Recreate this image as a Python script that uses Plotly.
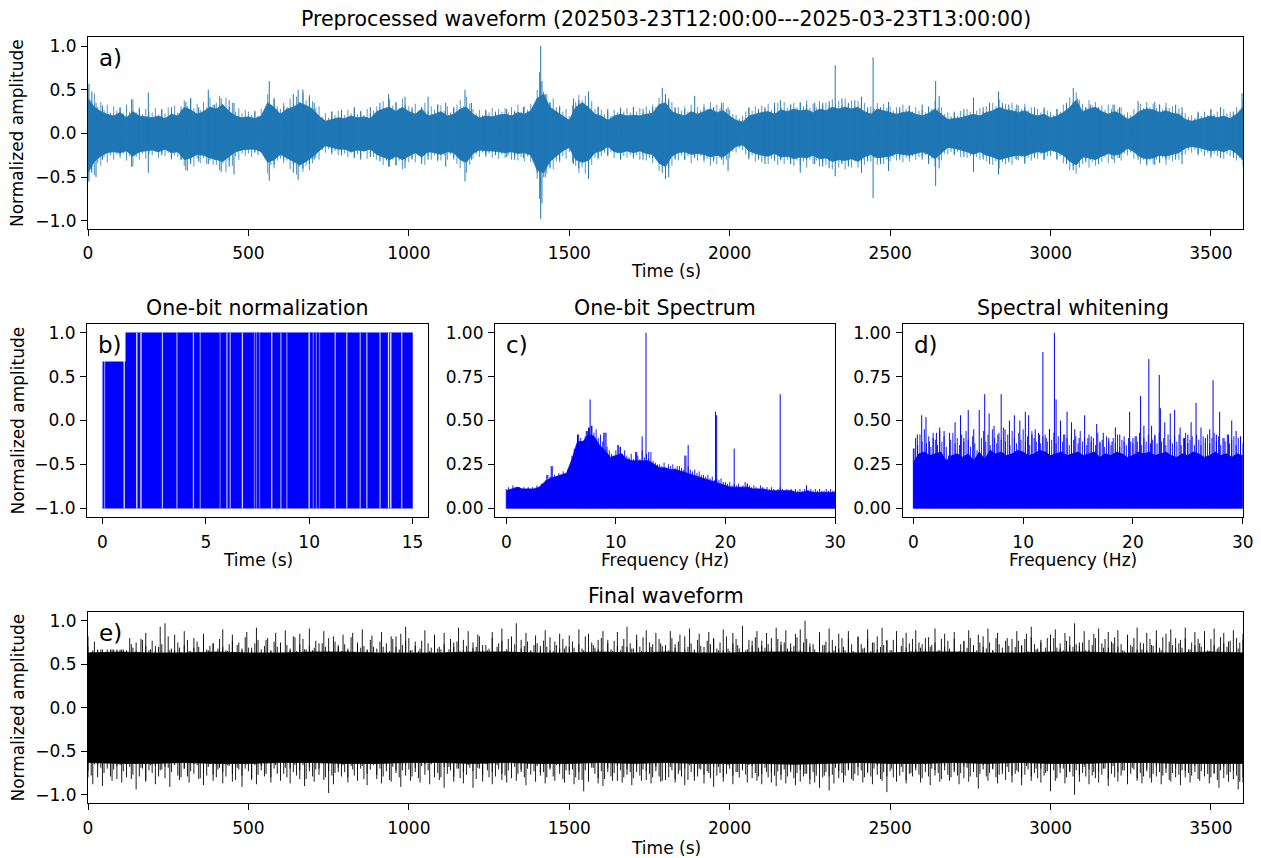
import plotly.graph_objects as go

# ------------------------------------------------------------------ data
# a) preprocessed waveform: dense body envelope sampled every 20 s (upper / lower)
A_STEP = 20
a_upper = [0.40, 0.30, 0.25, 0.22, 0.20, 0.24, 0.18, 0.25, 0.20, 0.19,
           0.18, 0.20, 0.17, 0.22, 0.20, 0.30, 0.27, 0.22, 0.25, 0.30,
           0.28, 0.33, 0.25, 0.20, 0.18, 0.19, 0.17, 0.20, 0.35, 0.30,
           0.22, 0.28, 0.30, 0.35, 0.32, 0.28, 0.20, 0.14, 0.16, 0.18,
           0.17, 0.20, 0.18, 0.19, 0.17, 0.25, 0.28, 0.30, 0.25, 0.30,
           0.25, 0.22, 0.28, 0.20, 0.22, 0.25, 0.20, 0.22, 0.28, 0.30,
           0.22, 0.18, 0.20, 0.19, 0.21, 0.22, 0.20, 0.24, 0.22, 0.26,
           0.40, 0.45, 0.30, 0.25, 0.20, 0.15, 0.30, 0.35, 0.30, 0.22,
           0.20, 0.15, 0.20, 0.22, 0.20, 0.21, 0.20, 0.22, 0.23, 0.33,
           0.35, 0.25, 0.22, 0.20, 0.25, 0.22, 0.25, 0.28, 0.24, 0.26,
           0.20, 0.15, 0.13, 0.20, 0.22, 0.24, 0.25, 0.22, 0.27, 0.25,
           0.28, 0.26, 0.27, 0.24, 0.28, 0.26, 0.30, 0.28, 0.30, 0.28,
           0.30, 0.25, 0.22, 0.28, 0.26, 0.24, 0.22, 0.24, 0.25, 0.22,
           0.20, 0.23, 0.28, 0.22, 0.16, 0.17, 0.18, 0.20, 0.22, 0.20,
           0.24, 0.26, 0.30, 0.27, 0.26, 0.24, 0.26, 0.22, 0.20, 0.22,
           0.18, 0.20, 0.24, 0.30, 0.38, 0.25, 0.28, 0.30, 0.25, 0.22,
           0.25, 0.22, 0.16, 0.20, 0.26, 0.28, 0.27, 0.24, 0.26, 0.23,
           0.22, 0.16, 0.14, 0.16, 0.18, 0.20, 0.18, 0.20, 0.17, 0.22,
           0.30]
a_lower = [-0.45, -0.32, -0.26, -0.22, -0.21, -0.22, -0.20, -0.26, -0.21, -0.20,
           -0.19, -0.21, -0.18, -0.22, -0.21, -0.30, -0.28, -0.24, -0.25, -0.28,
           -0.30, -0.32, -0.27, -0.21, -0.19, -0.18, -0.18, -0.21, -0.33, -0.30,
           -0.24, -0.28, -0.32, -0.36, -0.32, -0.27, -0.20, -0.14, -0.16, -0.18,
           -0.18, -0.21, -0.19, -0.20, -0.18, -0.24, -0.27, -0.30, -0.26, -0.30,
           -0.26, -0.22, -0.27, -0.21, -0.22, -0.24, -0.21, -0.22, -0.30, -0.33,
           -0.23, -0.19, -0.20, -0.20, -0.21, -0.22, -0.21, -0.23, -0.22, -0.25,
           -0.42, -0.45, -0.32, -0.26, -0.20, -0.16, -0.30, -0.33, -0.31, -0.22,
           -0.20, -0.15, -0.21, -0.22, -0.20, -0.22, -0.20, -0.23, -0.24, -0.34,
           -0.38, -0.26, -0.22, -0.21, -0.24, -0.23, -0.24, -0.27, -0.25, -0.27,
           -0.21, -0.15, -0.13, -0.20, -0.23, -0.25, -0.26, -0.23, -0.27, -0.26,
           -0.29, -0.27, -0.28, -0.25, -0.29, -0.28, -0.32, -0.30, -0.31, -0.29,
           -0.32, -0.27, -0.24, -0.28, -0.27, -0.26, -0.23, -0.24, -0.25, -0.23,
           -0.21, -0.24, -0.29, -0.23, -0.16, -0.17, -0.19, -0.21, -0.24, -0.21,
           -0.25, -0.27, -0.30, -0.28, -0.26, -0.25, -0.26, -0.23, -0.21, -0.22,
           -0.19, -0.21, -0.25, -0.32, -0.36, -0.27, -0.28, -0.30, -0.26, -0.23,
           -0.25, -0.23, -0.17, -0.21, -0.27, -0.29, -0.28, -0.25, -0.26, -0.24,
           -0.22, -0.17, -0.15, -0.16, -0.18, -0.20, -0.19, -0.21, -0.18, -0.23,
           -0.30]
# a) hairy edge: extreme values every 10 s
A_FUZZ_STEP = 10
a_fuzz_hi = [0.52, 0.38, 0.46, 0.30, 0.36, 0.27, 0.33, 0.24, 0.31, 0.26,
             0.29, 0.23, 0.33, 0.25, 0.39, 0.24, 0.30, 0.22, 0.28, 0.25,
             0.24, 0.29, 0.21, 0.27, 0.23, 0.30, 0.25, 0.32, 0.24, 0.31,
             0.38, 0.31, 0.40, 0.29, 0.34, 0.27, 0.36, 0.30, 0.41, 0.33,
             0.35, 0.43, 0.33, 0.41, 0.30, 0.35, 0.25, 0.29, 0.23, 0.27,
             0.25, 0.21, 0.26, 0.20, 0.28, 0.23, 0.45, 0.33, 0.40, 0.31,
             0.28, 0.35, 0.30, 0.40, 0.33, 0.42, 0.36, 0.46, 0.38, 0.44,
             0.37, 0.29, 0.31, 0.19, 0.23, 0.18, 0.25, 0.21, 0.26, 0.22,
             0.21, 0.27, 0.23, 0.29, 0.22, 0.26, 0.21, 0.28, 0.23, 0.26,
             0.31, 0.28, 0.37, 0.30, 0.39, 0.32, 0.36, 0.29, 0.40, 0.33,
             0.31, 0.27, 0.34, 0.26, 0.30, 0.35, 0.25, 0.31, 0.27, 0.33,
             0.32, 0.26, 0.31, 0.24, 0.29, 0.33, 0.38, 0.31, 0.42, 0.34,
             0.28, 0.23, 0.27, 0.21, 0.26, 0.24, 0.29, 0.22, 0.28, 0.25,
             0.29, 0.24, 0.30, 0.26, 0.33, 0.25, 0.31, 0.27, 0.34, 0.29,
             0.50, 0.58, 0.48, 0.45, 0.36, 0.40, 0.30, 0.32, 0.25, 0.28,
             0.20, 0.32, 0.36, 0.44, 0.38, 0.43, 0.34, 0.37, 0.28, 0.31,
             0.27, 0.22, 0.25, 0.20, 0.27, 0.24, 0.30, 0.25, 0.29, 0.24,
             0.30, 0.25, 0.29, 0.24, 0.31, 0.27, 0.33, 0.30, 0.41, 0.36,
             0.45, 0.37, 0.36, 0.29, 0.30, 0.26, 0.31, 0.25, 0.33, 0.28,
             0.30, 0.27, 0.34, 0.28, 0.36, 0.30, 0.33, 0.29, 0.35, 0.28,
             0.27, 0.22, 0.21, 0.17, 0.20, 0.25, 0.29, 0.26, 0.31, 0.27,
             0.32, 0.28, 0.34, 0.27, 0.31, 0.35, 0.30, 0.36, 0.29, 0.33,
             0.35, 0.30, 0.36, 0.31, 0.38, 0.29, 0.34, 0.30, 0.37, 0.32,
             0.35, 0.31, 0.39, 0.33, 0.37, 0.32, 0.40, 0.34, 0.38, 0.31,
             0.37, 0.33, 0.35, 0.27, 0.31, 0.28, 0.35, 0.30, 0.34, 0.29,
             0.31, 0.26, 0.30, 0.27, 0.33, 0.28, 0.31, 0.25, 0.30, 0.26,
             0.27, 0.24, 0.31, 0.28, 0.37, 0.29, 0.30, 0.22, 0.24, 0.20,
             0.23, 0.20, 0.26, 0.22, 0.28, 0.25, 0.31, 0.26, 0.29, 0.25,
             0.31, 0.28, 0.35, 0.31, 0.39, 0.32, 0.34, 0.29, 0.35, 0.28,
             0.32, 0.28, 0.34, 0.27, 0.30, 0.25, 0.28, 0.24, 0.30, 0.26,
             0.25, 0.21, 0.28, 0.25, 0.33, 0.30, 0.41, 0.36, 0.47, 0.38,
             0.34, 0.30, 0.38, 0.32, 0.36, 0.29, 0.32, 0.27, 0.33, 0.28,
             0.33, 0.28, 0.30, 0.22, 0.24, 0.21, 0.28, 0.25, 0.34, 0.29,
             0.36, 0.30, 0.34, 0.29, 0.33, 0.28, 0.35, 0.29, 0.31, 0.26,
             0.29, 0.24, 0.23, 0.19, 0.21, 0.18, 0.23, 0.20, 0.25, 0.21,
             0.27, 0.22, 0.25, 0.21, 0.28, 0.23, 0.25, 0.22, 0.30, 0.27,
             0.40]
a_fuzz_lo = [-0.55, -0.42, -0.48, -0.34, -0.37, -0.27, -0.33, -0.25, -0.30, -0.24,
             -0.28, -0.23, -0.31, -0.26, -0.38, -0.27, -0.30, -0.23, -0.29, -0.24,
             -0.25, -0.21, -0.28, -0.23, -0.26, -0.22, -0.30, -0.25, -0.27, -0.30,
             -0.37, -0.43, -0.33, -0.38, -0.29, -0.34, -0.28, -0.35, -0.31, -0.36,
             -0.36, -0.42, -0.34, -0.44, -0.31, -0.37, -0.26, -0.30, -0.23, -0.26,
             -0.23, -0.27, -0.21, -0.25, -0.22, -0.28, -0.46, -0.36, -0.40, -0.31,
             -0.29, -0.34, -0.31, -0.41, -0.35, -0.47, -0.38, -0.44, -0.37, -0.42,
             -0.34, -0.28, -0.30, -0.19, -0.22, -0.18, -0.24, -0.20, -0.25, -0.21,
             -0.23, -0.27, -0.22, -0.28, -0.24, -0.27, -0.21, -0.29, -0.24, -0.27,
             -0.30, -0.27, -0.36, -0.31, -0.38, -0.30, -0.37, -0.31, -0.41, -0.32,
             -0.33, -0.28, -0.33, -0.25, -0.31, -0.36, -0.26, -0.30, -0.25, -0.32,
             -0.31, -0.25, -0.30, -0.24, -0.30, -0.35, -0.40, -0.33, -0.45, -0.36,
             -0.29, -0.24, -0.27, -0.22, -0.27, -0.23, -0.28, -0.23, -0.29, -0.24,
             -0.28, -0.25, -0.30, -0.26, -0.31, -0.27, -0.32, -0.26, -0.33, -0.28,
             -0.52, -0.62, -0.50, -0.46, -0.38, -0.41, -0.32, -0.33, -0.26, -0.29,
             -0.21, -0.33, -0.37, -0.45, -0.39, -0.46, -0.35, -0.36, -0.28, -0.30,
             -0.26, -0.22, -0.26, -0.21, -0.28, -0.23, -0.29, -0.26, -0.28, -0.25,
             -0.29, -0.25, -0.30, -0.23, -0.31, -0.28, -0.34, -0.29, -0.43, -0.38,
             -0.48, -0.40, -0.37, -0.28, -0.31, -0.25, -0.30, -0.26, -0.34, -0.27,
             -0.31, -0.26, -0.33, -0.29, -0.37, -0.30, -0.35, -0.28, -0.36, -0.30,
             -0.28, -0.21, -0.22, -0.17, -0.19, -0.24, -0.30, -0.25, -0.32, -0.28,
             -0.33, -0.28, -0.35, -0.29, -0.32, -0.36, -0.31, -0.35, -0.30, -0.34,
             -0.37, -0.31, -0.36, -0.32, -0.39, -0.30, -0.35, -0.31, -0.38, -0.33,
             -0.36, -0.32, -0.41, -0.34, -0.39, -0.33, -0.41, -0.35, -0.39, -0.32,
             -0.39, -0.34, -0.36, -0.28, -0.32, -0.28, -0.36, -0.31, -0.35, -0.30,
             -0.32, -0.27, -0.31, -0.26, -0.33, -0.28, -0.32, -0.26, -0.30, -0.27,
             -0.27, -0.25, -0.32, -0.29, -0.38, -0.30, -0.31, -0.23, -0.24, -0.21,
             -0.23, -0.21, -0.27, -0.22, -0.28, -0.26, -0.31, -0.27, -0.30, -0.26,
             -0.32, -0.28, -0.36, -0.32, -0.40, -0.33, -0.35, -0.30, -0.36, -0.29,
             -0.31, -0.27, -0.33, -0.28, -0.31, -0.26, -0.29, -0.24, -0.30, -0.26,
             -0.26, -0.21, -0.29, -0.26, -0.34, -0.31, -0.42, -0.37, -0.46, -0.39,
             -0.35, -0.30, -0.39, -0.33, -0.37, -0.30, -0.33, -0.27, -0.34, -0.29,
             -0.34, -0.28, -0.31, -0.23, -0.25, -0.22, -0.29, -0.26, -0.35, -0.30,
             -0.37, -0.31, -0.35, -0.30, -0.34, -0.28, -0.36, -0.30, -0.32, -0.27,
             -0.30, -0.25, -0.24, -0.19, -0.22, -0.19, -0.23, -0.21, -0.26, -0.22,
             -0.28, -0.23, -0.26, -0.22, -0.29, -0.24, -0.26, -0.23, -0.31, -0.28,
             -0.38]
# isolated spikes in a): (time s, top, bottom)
a_spikes = [(3, 0.57, -0.55), (12, 0.48, -0.45), (25, 0.35, -0.50), (45, 0.32, -0.30),
            (100, 0.30, -0.25), (136, 0.39, -0.38), (160, 0.28, -0.22), (188, 0.47, -0.45),
            (230, 0.28, -0.25), (260, 0.30, -0.28), (290, 0.27, -0.30), (305, 0.36, -0.42),
            (320, 0.40, -0.35), (345, 0.30, -0.32), (375, 0.50, -0.35), (395, 0.33, -0.30),
            (415, 0.40, -0.44), (440, 0.38, -0.38), (455, 0.35, -0.47), (520, 0.25, -0.22),
            (565, 0.60, -0.54), (580, 0.40, -0.36), (610, 0.32, -0.30), (640, 0.45, -0.45),
            (655, 0.50, -0.53), (670, 0.50, -0.40), (690, 0.42, -0.35), (705, 0.35, -0.30),
            (760, 0.25, -0.22), (790, 0.27, -0.25), (830, 0.30, -0.28), (850, 0.25, -0.30),
            (880, 0.30, -0.27), (910, 0.35, -0.32), (937, 0.45, -0.38), (960, 0.35, -0.36),
            (988, 0.42, -0.40), (1010, 0.30, -0.30), (1040, 0.30, -0.35), (1060, 0.42, -0.30),
            (1090, 0.33, -0.30), (1115, 0.35, -0.38), (1140, 0.30, -0.28), (1175, 0.50, -0.55),
            (1195, 0.35, -0.30), (1240, 0.27, -0.25), (1270, 0.25, -0.25), (1305, 0.28, -0.27),
            (1330, 0.25, -0.30), (1357, 0.30, -0.28), (1385, 0.30, -0.28), (1400, 0.40, -0.45),
            (1408, 0.70, -0.75), (1411, 1.00, -0.98), (1415, 0.60, -0.80), (1425, 0.45, -0.50),
            (1440, 0.35, -0.40), (1470, 0.30, -0.30), (1513, 0.40, -0.35), (1530, 0.38, -0.40),
            (1545, 0.35, -0.30), (1560, 0.48, -0.52), (1590, 0.30, -0.28), (1620, 0.28, -0.25),
            (1660, 0.28, -0.30), (1700, 0.30, -0.27), (1730, 0.28, -0.30), (1760, 0.30, -0.28),
            (1790, 0.52, -0.45), (1800, 0.45, -0.52), (1810, 0.40, -0.50), (1830, 0.30, -0.30),
            (1860, 0.28, -0.30), (1891, 0.43, -0.28), (1920, 0.30, -0.30), (1950, 0.30, -0.32),
            (1975, 0.35, -0.30), (1995, 0.30, -0.43), (2060, 0.30, -0.28), (2090, 0.28, -0.30),
            (2110, 0.30, -0.35), (2140, 0.35, -0.30), (2158, 0.38, -0.30), (2190, 0.33, -0.35),
            (2220, 0.35, -0.45), (2240, 0.33, -0.30), (2265, 0.35, -0.35), (2290, 0.35, -0.38),
            (2310, 0.37, -0.40), (2329, 0.78, -0.49), (2350, 0.40, -0.35), (2370, 0.35, -0.38),
            (2390, 0.38, -0.30), (2411, 0.42, -0.45), (2430, 0.30, -0.32), (2447, 0.87, -0.74),
            (2470, 0.30, -0.35), (2495, 0.36, -0.43), (2530, 0.30, -0.30), (2560, 0.32, -0.28),
            (2600, 0.33, -0.30), (2620, 0.30, -0.35), (2642, 0.60, -0.60), (2653, 0.43, -0.40),
            (2700, 0.25, -0.25), (2730, 0.28, -0.27), (2760, 0.41, -0.44), (2790, 0.30, -0.30),
            (2810, 0.35, -0.35), (2838, 0.48, -0.47), (2850, 0.35, -0.30), (2870, 0.33, -0.33),
            (2895, 0.33, -0.30), (2920, 0.30, -0.35), (2950, 0.30, -0.28), (2980, 0.28, -0.30),
            (3020, 0.28, -0.30), (3050, 0.35, -0.35), (3071, 0.52, -0.42), (3085, 0.40, -0.35),
            (3110, 0.30, -0.33), (3124, 0.33, -0.30), (3150, 0.30, -0.35), (3195, 0.33, -0.30),
            (3215, 0.30, -0.28), (3273, 0.37, -0.30), (3300, 0.30, -0.35), (3325, 0.36, -0.36),
            (3340, 0.33, -0.33), (3360, 0.30, -0.30), (3390, 0.33, -0.30), (3410, 0.30, -0.35),
            (3460, 0.25, -0.25), (3500, 0.28, -0.25), (3530, 0.30, -0.28), (3570, 0.25, -0.28),
            (3597, 0.46, -0.30)]

# b) one-bit normalization: 15 s window, values are +/-1
b_span = [0.0, 15.0]
b_levels = [-1.0, 1.0]
# times where the one-bit trace holds its value (light gaps), with gap strength
b_gaps = [(0.10, 0.5), (1.05, 0.9), (1.66, 0.9), (1.86, 0.9), (2.90, 0.7), (3.60, 0.6),
          (4.40, 0.7), (4.73, 0.5), (5.69, 0.4), (6.02, 0.7), (6.18, 0.6), (6.77, 0.8),
          (7.35, 0.4), (7.45, 0.4), (7.60, 0.4), (8.19, 0.8), (8.63, 0.6), (8.92, 0.5),
          (10.00, 0.9), (10.20, 0.4), (10.35, 0.4), (10.50, 0.4), (11.26, 0.7), (11.82, 0.7),
          (12.47, 0.6), (12.79, 0.7), (13.43, 0.7), (13.84, 0.9), (13.95, 0.9), (14.48, 0.7)]

# c) one-bit spectrum: solid envelope every 0.5 Hz, fuzz every 0.2 Hz, narrow peaks
F_STEP = 0.5
FZ_STEP = 0.2
c_env = [0.10, 0.11, 0.12, 0.11, 0.11, 0.11, 0.12, 0.15, 0.17, 0.18,
         0.19, 0.20, 0.28, 0.38, 0.38, 0.42, 0.41, 0.36, 0.33, 0.29,
         0.30, 0.31, 0.28, 0.27, 0.27, 0.27, 0.27, 0.25, 0.23, 0.23,
         0.22, 0.22, 0.21, 0.20, 0.19, 0.18, 0.17, 0.16, 0.15, 0.14,
         0.13, 0.12, 0.12, 0.12, 0.12, 0.11, 0.11, 0.11, 0.10, 0.10,
         0.10, 0.10, 0.10, 0.09, 0.09, 0.10, 0.09, 0.09, 0.09, 0.09,
         0.09]
c_fuzz = [0.11, 0.12, 0.10, 0.13, 0.11, 0.12, 0.12, 0.10, 0.12, 0.11,
          0.12, 0.11, 0.12, 0.11, 0.13, 0.12, 0.14, 0.13, 0.16, 0.19,
          0.18, 0.24, 0.19, 0.17, 0.20, 0.19, 0.21, 0.18, 0.22, 0.21,
          0.30, 0.34, 0.36, 0.42, 0.40, 0.38, 0.41, 0.44, 0.46, 0.47,
          0.43, 0.45, 0.40, 0.42, 0.38, 0.43, 0.35, 0.33, 0.31, 0.30,
          0.33, 0.36, 0.35, 0.31, 0.33, 0.30, 0.29, 0.31, 0.28, 0.32,
          0.30, 0.28, 0.33, 0.29, 0.31, 0.28, 0.32, 0.27, 0.26, 0.25,
          0.25, 0.24, 0.26, 0.23, 0.25, 0.24, 0.25, 0.23, 0.24, 0.24,
          0.23, 0.22, 0.30, 0.24, 0.22, 0.21, 0.22, 0.20, 0.21, 0.19,
          0.19, 0.18, 0.19, 0.17, 0.18, 0.16, 0.17, 0.16, 0.17, 0.15,
          0.15, 0.14, 0.15, 0.13, 0.14, 0.13, 0.14, 0.12, 0.13, 0.15,
          0.14, 0.13, 0.12, 0.13, 0.12, 0.11, 0.13, 0.12, 0.11, 0.12,
          0.11, 0.12, 0.11, 0.10, 0.11, 0.12, 0.11, 0.10, 0.11, 0.10,
          0.11, 0.10, 0.11, 0.10, 0.11, 0.10, 0.11, 0.13, 0.10, 0.11,
          0.10, 0.11, 0.10, 0.11, 0.10, 0.10, 0.11, 0.10, 0.11, 0.10,
          0.10]
c_peaks = [(3.7, 0.19), (4.1, 0.24), (6.5, 0.42), (7.3, 0.44), (7.5, 0.46), (7.65, 0.62),
           (7.8, 0.47), (8.9, 0.43), (9.1, 0.43), (10.2, 0.36), (10.4, 0.35), (11.9, 0.32),
           (12.4, 0.41), (12.75, 1.00), (13.0, 0.32), (16.3, 0.30), (16.6, 0.36), (19.1, 0.55),
           (19.2, 0.53), (20.8, 0.34), (22.0, 0.14), (25.0, 0.65), (27.4, 0.13)]

# d) spectral whitening: solid envelope every 0.5 Hz, fuzz every 0.2 Hz, narrow peaks
d_env = [0.26, 0.31, 0.32, 0.30, 0.31, 0.32, 0.27, 0.30, 0.31, 0.29,
         0.31, 0.27, 0.32, 0.28, 0.33, 0.31, 0.32, 0.30, 0.31, 0.33,
         0.32, 0.30, 0.31, 0.33, 0.32, 0.30, 0.31, 0.32, 0.30, 0.31,
         0.32, 0.30, 0.31, 0.32, 0.29, 0.31, 0.30, 0.32, 0.31, 0.29,
         0.30, 0.32, 0.31, 0.32, 0.30, 0.31, 0.32, 0.30, 0.29, 0.31,
         0.30, 0.32, 0.31, 0.29, 0.30, 0.32, 0.30, 0.31, 0.29, 0.31,
         0.30]
d_fuzz = [0.34, 0.40, 0.36, 0.42, 0.38, 0.45, 0.37, 0.41, 0.35, 0.43,
          0.39, 0.36, 0.44, 0.38, 0.41, 0.35, 0.30, 0.39, 0.43, 0.37,
          0.40, 0.36, 0.42, 0.38, 0.44, 0.39, 0.35, 0.41, 0.37, 0.33,
          0.30, 0.40, 0.44, 0.38, 0.42, 0.36, 0.45, 0.40, 0.37, 0.43,
          0.39, 0.46, 0.38, 0.42, 0.36, 0.44, 0.40, 0.37, 0.43, 0.39,
          0.45, 0.38, 0.41, 0.36, 0.44, 0.40, 0.38, 0.43, 0.37, 0.41,
          0.42, 0.38, 0.45, 0.39, 0.43, 0.37, 0.41, 0.44, 0.38, 0.42,
          0.40, 0.36, 0.43, 0.39, 0.41, 0.37, 0.44, 0.38, 0.40, 0.36,
          0.42, 0.38, 0.40, 0.36, 0.43, 0.37, 0.39, 0.35, 0.41, 0.38,
          0.36, 0.40, 0.37, 0.42, 0.35, 0.39, 0.41, 0.36, 0.40, 0.38,
          0.37, 0.41, 0.38, 0.43, 0.36, 0.40, 0.38, 0.42, 0.37, 0.39,
          0.41, 0.37, 0.43, 0.38, 0.40, 0.36, 0.42, 0.39, 0.37, 0.41,
          0.38, 0.42, 0.36, 0.40, 0.43, 0.37, 0.39, 0.41, 0.36, 0.42,
          0.39, 0.36, 0.41, 0.38, 0.42, 0.37, 0.40, 0.43, 0.38, 0.41,
          0.36, 0.40, 0.38, 0.42, 0.37, 0.39, 0.41, 0.36, 0.40, 0.38,
          0.37]
d_peaks = [(0.06, 0.34), (0.36, 0.42), (0.76, 0.53), (1.15, 0.52), (1.46, 0.38), (1.8, 0.40),
           (2.1, 0.43), (2.4, 0.46), (2.8, 0.44), (3.3, 0.43), (3.8, 0.49), (4.3, 0.53),
           (4.6, 0.40), (5.0, 0.56), (5.5, 0.45), (6.0, 0.56), (6.5, 0.65), (6.9, 0.54),
           (7.35, 0.47), (7.7, 0.42), (8.0, 0.65), (8.35, 0.45), (8.75, 0.50), (9.2, 0.53),
           (9.7, 0.50), (10.2, 0.55), (10.5, 0.53), (10.8, 0.42), (11.1, 0.45), (11.5, 0.42),
           (11.8, 0.89), (12.1, 0.40), (12.4, 0.45), (12.85, 1.00), (13.0, 0.62), (13.4, 0.50),
           (13.7, 0.42), (14.0, 0.55), (14.4, 0.49), (14.7, 0.45), (15.1, 0.40), (15.6, 0.53),
           (15.9, 0.40), (16.2, 0.41), (16.7, 0.48), (17.0, 0.38), (17.3, 0.43), (17.8, 0.40),
           (18.1, 0.38), (18.4, 0.46), (18.8, 0.42), (19.2, 0.38), (19.7, 0.55), (20.0, 0.40),
           (20.3, 0.41), (20.7, 0.64), (21.0, 0.47), (21.45, 0.85), (21.7, 0.47), (22.0, 0.42),
           (22.4, 0.76), (22.5, 0.57), (22.9, 0.49), (23.4, 0.54), (23.8, 0.56), (24.3, 0.46),
           (24.7, 0.40), (25.0, 0.42), (25.3, 0.49), (25.75, 0.60), (26.2, 0.46), (26.6, 0.40),
           (27.0, 0.45), (27.3, 0.73), (27.6, 0.42), (27.9, 0.55), (28.3, 0.40), (28.7, 0.42),
           (29.0, 0.50), (29.4, 0.44), (29.8, 0.41)]

# e) final waveform: body envelope every 100 s, edge fuzz every 10 s, spikes every 15 s
E_BODY_STEP = 100
e_body_hi = [0.63, 0.64, 0.63, 0.63, 0.64, 0.63, 0.63, 0.64, 0.64, 0.63,
             0.63, 0.63, 0.64, 0.64, 0.63, 0.63, 0.64, 0.63, 0.64, 0.63,
             0.63, 0.64, 0.64, 0.63, 0.63, 0.63, 0.64, 0.64, 0.63, 0.63,
             0.64, 0.64, 0.63, 0.63, 0.63, 0.64, 0.63]
e_body_lo = [-0.63, -0.64, -0.64, -0.63, -0.64, -0.64, -0.63, -0.63, -0.64, -0.64,
             -0.63, -0.63, -0.64, -0.63, -0.64, -0.64, -0.63, -0.64, -0.63, -0.64,
             -0.64, -0.64, -0.65, -0.64, -0.63, -0.64, -0.64, -0.63, -0.64, -0.63,
             -0.64, -0.64, -0.63, -0.63, -0.64, -0.64, -0.64]
E_FUZZ_STEP = 10
e_fuzz_hi = [0.70, 0.64, 0.76, 0.66, 0.81, 0.63, 0.72, 0.68, 0.79, 0.65,
             0.67, 0.74, 0.63, 0.80, 0.69, 0.75, 0.64, 0.78, 0.71, 0.66,
             0.77, 0.65, 0.70, 0.73, 0.63, 0.82, 0.68, 0.66, 0.75, 0.64,
             0.72, 0.78, 0.65, 0.69, 0.76, 0.63, 0.80, 0.67, 0.71, 0.74,
             0.64, 0.79, 0.70, 0.66, 0.73, 0.77, 0.63, 0.75, 0.68, 0.81,
             0.69, 0.65, 0.74, 0.78, 0.64, 0.71, 0.80, 0.66, 0.76, 0.70,
             0.75, 0.63, 0.72, 0.68, 0.82, 0.65, 0.73, 0.79, 0.67, 0.71,
             0.66, 0.77, 0.64, 0.74, 0.70, 0.80, 0.63, 0.76, 0.72, 0.65,
             0.73, 0.68, 0.81, 0.64, 0.75, 0.69, 0.71, 0.66, 0.78, 0.70,
             0.63, 0.76, 0.70, 0.74, 0.65, 0.79, 0.82, 0.67, 0.72, 0.77,
             0.80, 0.66, 0.71, 0.65, 0.77, 0.63, 0.74, 0.69, 0.81, 0.68,
             0.67, 0.73, 0.64, 0.79, 0.70, 0.76, 0.65, 0.78, 0.71, 0.64,
             0.75, 0.70, 0.82, 0.66, 0.72, 0.68, 0.80, 0.63, 0.74, 0.77,
             0.65, 0.79, 0.69, 0.73, 0.64, 0.78, 0.71, 0.76, 0.66, 0.72,
             0.74, 0.67, 0.77, 0.70, 0.81, 0.65, 0.72, 0.68, 0.79, 0.71,
             0.70, 0.76, 0.64, 0.73, 0.68, 0.82, 0.63, 0.75, 0.69, 0.78,
             0.80, 0.63, 0.74, 0.67, 0.77, 0.71, 0.66, 0.79, 0.70, 0.74,
             0.68, 0.78, 0.70, 0.81, 0.65, 0.75, 0.73, 0.64, 0.79, 0.71,
             0.72, 0.66, 0.80, 0.69, 0.76, 0.63, 0.82, 0.70, 0.74, 0.67,
             0.78, 0.71, 0.64, 0.77, 0.73, 0.80, 0.68, 0.75, 0.66, 0.82,
             0.65, 0.74, 0.79, 0.68, 0.72, 0.66, 0.78, 0.71, 0.81, 0.69,
             0.77, 0.69, 0.73, 0.80, 0.64, 0.79, 0.72, 0.75, 0.68, 0.74,
             0.71, 0.81, 0.66, 0.75, 0.79, 0.70, 0.73, 0.64, 0.80, 0.72,
             0.76, 0.65, 0.78, 0.71, 0.68, 0.80, 0.66, 0.79, 0.73, 0.64,
             0.81, 0.73, 0.69, 0.79, 0.65, 0.75, 0.82, 0.70, 0.72, 0.77,
             0.66, 0.78, 0.72, 0.64, 0.80, 0.69, 0.74, 0.79, 0.67, 0.75,
             0.73, 0.68, 0.81, 0.72, 0.75, 0.66, 0.79, 0.70, 0.77, 0.64,
             0.79, 0.64, 0.73, 0.77, 0.69, 0.80, 0.72, 0.66, 0.75, 0.82,
             0.68, 0.75, 0.66, 0.80, 0.73, 0.64, 0.77, 0.71, 0.79, 0.70,
             0.77, 0.71, 0.79, 0.65, 0.81, 0.73, 0.68, 0.75, 0.64, 0.80,
             0.72, 0.80, 0.69, 0.74, 0.66, 0.77, 0.82, 0.70, 0.73, 0.71,
             0.75, 0.66, 0.78, 0.72, 0.80, 0.64, 0.74, 0.79, 0.69, 0.76,
             0.81, 0.70, 0.73, 0.65, 0.77, 0.72, 0.80, 0.67, 0.75, 0.74,
             0.66, 0.79, 0.71, 0.77, 0.69, 0.81, 0.64, 0.76, 0.72, 0.80,
             0.74, 0.69, 0.80, 0.67, 0.75, 0.72, 0.79, 0.70, 0.78, 0.66,
             0.79, 0.72, 0.68, 0.81, 0.74, 0.70, 0.77, 0.64, 0.80, 0.75,
             0.78]
e_fuzz_lo = [-0.72, -0.78, -0.65, -0.80, -0.69, -0.75, -0.64, -0.79, -0.71, -0.82,
             -0.66, -0.73, -0.80, -0.68, -0.77, -0.63, -0.79, -0.70, -0.83, -0.72,
             -0.75, -0.67, -0.79, -0.71, -0.81, -0.69, -0.74, -0.64, -0.78, -0.80,
             -0.70, -0.79, -0.73, -0.76, -0.66, -0.81, -0.75, -0.78, -0.65, -0.77,
             -0.80, -0.69, -0.74, -0.79, -0.67, -0.76, -0.83, -0.71, -0.78, -0.70,
             -0.73, -0.81, -0.66, -0.77, -0.72, -0.79, -0.64, -0.80, -0.70, -0.76,
             -0.68, -0.76, -0.80, -0.70, -0.74, -0.78, -0.72, -0.66, -0.82, -0.73,
             -0.79, -0.71, -0.77, -0.64, -0.80, -0.73, -0.78, -0.75, -0.69, -0.79,
             -0.74, -0.80, -0.67, -0.78, -0.72, -0.70, -0.82, -0.76, -0.71, -0.66,
             -0.77, -0.70, -0.79, -0.73, -0.83, -0.68, -0.75, -0.80, -0.72, -0.78,
             -0.71, -0.79, -0.74, -0.81, -0.67, -0.77, -0.72, -0.65, -0.80, -0.75,
             -0.80, -0.68, -0.76, -0.72, -0.79, -0.70, -0.81, -0.74, -0.77, -0.69,
             -0.73, -0.82, -0.70, -0.77, -0.65, -0.80, -0.74, -0.79, -0.71, -0.76,
             -0.78, -0.72, -0.81, -0.68, -0.76, -0.74, -0.80, -0.70, -0.77, -0.73,
             -0.67, -0.78, -0.74, -0.80, -0.71, -0.79, -0.66, -0.76, -0.82, -0.72,
             -0.77, -0.71, -0.80, -0.74, -0.83, -0.72, -0.78, -0.69, -0.76, -0.81,
             -0.73, -0.82, -0.70, -0.79, -0.75, -0.84, -0.72, -0.80, -0.77, -0.74,
             -0.81, -0.74, -0.78, -0.71, -0.83, -0.76, -0.80, -0.73, -0.79, -0.84,
             -0.75, -0.80, -0.72, -0.82, -0.76, -0.79, -0.70, -0.83, -0.74, -0.78,
             -0.79, -0.71, -0.77, -0.73, -0.81, -0.68, -0.78, -0.75, -0.80, -0.76,
             -0.70, -0.78, -0.74, -0.80, -0.72, -0.77, -0.66, -0.81, -0.75, -0.79,
             -0.76, -0.69, -0.80, -0.74, -0.78, -0.73, -0.83, -0.71, -0.79, -0.74,
             -0.81, -0.75, -0.71, -0.79, -0.76, -0.82, -0.74, -0.78, -0.70, -0.80,
             -0.74, -0.79, -0.77, -0.69, -0.81, -0.75, -0.78, -0.72, -0.82, -0.76,
             -0.78, -0.72, -0.80, -0.75, -0.79, -0.70, -0.77, -0.82, -0.74, -0.79,
             -0.73, -0.80, -0.71, -0.78, -0.74, -0.83, -0.76, -0.79, -0.72, -0.77,
             -0.81, -0.74, -0.79, -0.70, -0.78, -0.75, -0.82, -0.72, -0.77, -0.80,
             -0.72, -0.78, -0.75, -0.81, -0.69, -0.79, -0.74, -0.80, -0.76, -0.71,
             -0.79, -0.75, -0.70, -0.80, -0.77, -0.72, -0.83, -0.74, -0.78, -0.76,
             -0.74, -0.80, -0.77, -0.71, -0.79, -0.75, -0.81, -0.70, -0.78, -0.73,
             -0.78, -0.72, -0.81, -0.75, -0.70, -0.80, -0.74, -0.79, -0.72, -0.77,
             -0.75, -0.79, -0.71, -0.78, -0.81, -0.73, -0.77, -0.70, -0.82, -0.76,
             -0.80, -0.74, -0.78, -0.72, -0.79, -0.76, -0.71, -0.81, -0.75, -0.79,
             -0.73, -0.81, -0.76, -0.79, -0.74, -0.78, -0.70, -0.83, -0.75, -0.80,
             -0.77, -0.72, -0.80, -0.75, -0.78, -0.74, -0.82, -0.73, -0.79, -0.76,
             -0.80, -0.75, -0.83, -0.72, -0.81, -0.77, -0.74, -0.82, -0.78, -0.85,
             -0.80]
E_STEP = 15
e_hi = [0.82, 0.66, 0.70, 0.85, 0.64, 0.80, 0.68, 0.88, 0.66, 0.73, 0.65, 0.79, 0.86, 0.67, 0.71, 0.93, 0.97, 0.66, 0.84, 0.69,
        0.88, 0.65, 0.80, 0.70, 0.85, 0.66, 0.74, 0.68, 0.90, 0.65, 0.84, 0.72, 0.66, 0.87, 0.69, 0.92, 0.67, 0.78, 0.65, 0.86,
        0.70, 0.89, 0.66, 0.81, 0.85, 0.67, 0.91, 0.69, 0.74, 0.88, 0.65, 0.82, 0.70, 0.84, 0.66, 0.86, 0.71, 0.90, 0.67, 0.83,
        0.68, 0.87, 0.65, 0.82, 0.70, 0.85, 0.93, 0.66, 0.76, 0.68, 0.89, 0.65, 0.84, 0.70, 0.86, 0.67, 0.75, 0.92, 0.66, 0.88,
        0.69, 0.84, 0.72, 0.66, 0.87, 0.70, 0.91, 0.67, 0.82, 0.97, 0.68, 0.86, 0.65, 0.83, 0.71, 0.89, 0.66, 0.76, 0.85, 0.68,
        0.83, 0.69, 0.90, 0.66, 0.85, 0.72, 0.67, 0.88, 0.78, 0.65, 0.87, 0.71, 0.93, 0.68, 0.84, 0.65, 0.89, 0.70, 0.86, 0.74,
        0.66, 0.88, 0.73, 0.84, 0.67, 0.91, 0.65, 0.85, 0.70, 0.87, 0.79, 0.66, 0.90, 0.68, 0.86, 0.72, 0.94, 0.67, 0.77, 0.88,
        0.71, 0.86, 0.68, 0.92, 0.76, 0.89, 0.69, 0.85, 0.90, 1.00, 0.74, 0.67, 0.87, 0.72, 0.91, 0.66, 0.85, 0.70, 0.88, 0.65,
        0.82, 0.68, 0.90, 0.75, 0.67, 0.92, 0.78, 0.66, 0.88, 0.71, 0.86, 0.65, 0.89, 0.69, 0.80, 0.70, 0.91, 0.66, 0.85, 0.68,
        0.87, 0.65, 0.76, 0.89, 0.68, 0.84, 0.70, 0.91, 0.66, 0.86, 0.69, 0.80, 0.65, 0.88, 0.72, 0.85, 0.93, 0.67, 0.78, 0.69,
        0.84, 0.90, 0.68, 0.86, 0.72, 0.97, 0.75, 0.88, 0.66, 0.85, 0.91, 0.69, 0.87, 0.74, 0.89, 0.66, 0.84, 0.70, 0.92, 0.67,
        0.86, 0.72, 0.89, 0.66, 0.85, 0.90, 0.69, 0.78, 0.92, 0.67, 0.87, 0.74, 0.88, 0.65, 0.91, 0.70, 0.86, 0.76, 0.89, 0.68,
        0.85]
e_lo = [-0.80, -0.88, -0.66, -0.90, -0.70, -0.84, -0.67, -0.86, -0.65, -0.82, -0.94, -0.69, -0.85, -0.66, -0.88, -0.72, -0.68, -0.91, -0.66, -0.83,
        -0.70, -0.86, -0.65, -0.82, -0.89, -0.68, -0.84, -0.71, -0.87, -0.66, -0.85, -0.69, -0.91, -0.65, -0.83, -0.88, -0.67, -0.76, -0.86, -0.66,
        -0.84, -0.69, -0.87, -0.66, -0.82, -0.90, -0.68, -0.85, -0.70, -0.83, -0.98, -0.88, -0.74, -0.66, -0.86, -0.71, -0.84, -0.67, -0.89, -0.65,
        -0.82, -0.87, -0.67, -0.85, -0.72, -0.91, -0.66, -0.84, -0.69, -0.86, -0.65, -0.88, -0.73, -0.83, -0.92, -0.68, -0.85, -0.70, -0.87, -0.66,
        -0.92, -0.69, -0.85, -0.72, -0.88, -0.66, -0.83, -0.86, -0.68, -0.84, -0.71, -0.89, -0.65, -0.85, -0.74, -0.87, -0.69, -0.84, -0.67, -0.86,
        -0.72, -0.88, -0.83, -0.96, -0.85, -0.69, -0.87, -0.90, -0.74, -0.84, -0.67, -0.86, -0.71, -0.89, -0.66, -0.84, -0.73, -0.87, -0.68, -0.85,
        -0.83, -0.68, -0.86, -0.72, -0.89, -0.66, -0.84, -0.70, -0.87, -0.75, -0.91, -0.68, -0.85, -0.66, -0.88, -0.74, -0.70, -0.86, -0.67, -0.84,
        -0.88, -0.74, -0.86, -0.90, -0.77, -0.87, -0.71, -0.89, -0.85, -0.76, -0.88, -0.86, -0.92, -0.78, -0.95, -0.87, -0.73, -0.86, -0.70, -0.84,
        -0.68, -0.86, -0.73, -0.88, -0.66, -0.84, -0.97, -0.70, -0.85, -0.68, -0.87, -0.75, -0.69, -0.86, -0.66, -0.89, -0.72, -0.85, -0.67, -0.84,
        -0.74, -0.88, -0.68, -0.85, -0.70, -0.93, -0.66, -0.84, -0.71, -0.87, -0.76, -0.68, -0.86, -0.72, -0.89, -0.67, -0.84, -0.70, -0.86, -0.75,
        -0.96, -0.84, -0.69, -0.87, -0.73, -1.00, -0.85, -0.68, -0.88, -0.74, -0.86, -0.70, -0.90, -0.67, -0.85, -0.72, -0.88, -0.69, -0.84, -0.87,
        -0.70, -0.86, -0.68, -0.88, -0.75, -0.85, -0.69, -0.89, -0.73, -0.86, -0.67, -0.84, -0.71, -0.87, -0.76, -0.92, -0.68, -0.85, -0.72, -0.94,
        -0.86]

titles = ["Preprocessed waveform (202503-23T12:00:00---2025-03-23T13:00:00)",
          "One-bit normalization", "One-bit Spectrum", "Spectral whitening", "Final waveform"]
letters = ["a)", "b)", "c)", "d)", "e)"]

# ------------------------------------------------------------------ helpers
W, H = 1261, 858
FONT = "DejaVu Sans"
C_A = "#1f77b4"
BLUE = "#0000ff"


def grid(n, step):
    return [round(i * step, 6) for i in range(n)]


def band(x_hi, hi, x_lo, lo, color, xa, ya, lw=0.8):
    xs = list(x_hi) + list(x_lo)[::-1]
    ys = list(hi) + list(lo)[::-1]
    return go.Scatter(x=xs, y=ys, fill="toself", fillcolor=color, mode="lines",
                      line=dict(color=color, width=lw), xaxis=xa, yaxis=ya,
                      hoverinfo="skip", showlegend=False)


def sticks(xs, y0, y1, color, xa, ya, width=1.0, opacity=1.0):
    X, Y = [], []
    for x, a, b in zip(xs, y0, y1):
        X += [x, x, None]
        Y += [a, b, None]
    return go.Scatter(x=X, y=Y, mode="lines", line=dict(color=color, width=width),
                      opacity=opacity, xaxis=xa, yaxis=ya, hoverinfo="skip",
                      showlegend=False)


traces = []

# a)
traces.append(band(grid(len(a_upper), A_STEP), a_upper,
                   grid(len(a_lower), A_STEP), a_lower, C_A, "x", "y"))
tfh = grid(len(a_fuzz_hi), A_FUZZ_STEP)
tfl = grid(len(a_fuzz_lo), A_FUZZ_STEP)
traces.append(sticks(tfh, [0.0] * len(tfh), a_fuzz_hi, C_A, "x", "y", width=0.9, opacity=0.85))
traces.append(sticks(tfl, [0.0] * len(tfl), a_fuzz_lo, C_A, "x", "y", width=0.9, opacity=0.85))
traces.append(sticks([s[0] for s in a_spikes], [s[2] for s in a_spikes],
                     [s[1] for s in a_spikes], C_A, "x", "y"))

# b)
traces.append(band(b_span, [b_levels[1]] * 2, b_span, [b_levels[0]] * 2, BLUE, "x2", "y2", lw=0.5))
for strength in sorted(set(g[1] for g in b_gaps)):
    gt = [g[0] for g in b_gaps if g[1] == strength]
    traces.append(sticks(gt, [b_levels[0]] * len(gt), [b_levels[1]] * len(gt),
                         "white", "x2", "y2", width=1.3, opacity=strength))

# c)
fc = grid(len(c_env), F_STEP)
traces.append(band(fc, c_env, fc, [0.0] * len(fc), BLUE, "x3", "y3"))
fcz = grid(len(c_fuzz), FZ_STEP)
traces.append(sticks(fcz, [0.0] * len(fcz), c_fuzz, BLUE, "x3", "y3", width=0.9))
traces.append(sticks([p[0] for p in c_peaks], [0.0] * len(c_peaks), [p[1] for p in c_peaks],
                     BLUE, "x3", "y3"))

# d)
fd = grid(len(d_env), F_STEP)
traces.append(band(fd, d_env, fd, [0.0] * len(fd), BLUE, "x4", "y4"))
fdz = grid(len(d_fuzz), FZ_STEP)
traces.append(sticks(fdz, [0.0] * len(fdz), d_fuzz, BLUE, "x4", "y4", width=0.9))
traces.append(sticks([p[0] for p in d_peaks], [0.0] * len(d_peaks), [p[1] for p in d_peaks],
                     BLUE, "x4", "y4"))

# e)
traces.append(band(grid(len(e_body_hi), E_BODY_STEP), e_body_hi,
                   grid(len(e_body_lo), E_BODY_STEP), e_body_lo, "black", "x5", "y5"))
for vals, step in ((e_fuzz_hi, E_FUZZ_STEP), (e_fuzz_lo, E_FUZZ_STEP), (e_hi, E_STEP), (e_lo, E_STEP)):
    tt = grid(len(vals), step)
    traces.append(sticks(tt, [0.0] * len(tt), vals, "black", "x5", "y5", width=0.9))

fig = go.Figure(traces)

# ------------------------------------------------------------------ layout
boxes = {  # pixel boxes: left, right, top, bottom
    1: (88, 1243, 37.3, 228.7),
    2: (87, 428, 324, 517),
    3: (495, 835, 324, 517),
    4: (902.7, 1242.7, 324, 517),
    5: (88, 1243, 612, 803),
}


def axstyle():
    return dict(showline=True, linecolor="black", linewidth=1.2, mirror=True,
                ticks="outside", ticklen=6, tickwidth=1.2, tickcolor="black",
                tickfont=dict(family=FONT, size=17, color="black"),
                showgrid=False, zeroline=False, layer="above traces",
                automargin=False)


xr = {1: [0, 3600], 2: [-0.75, 15.75], 3: [-1.03, 30], 4: [-0.97, 30], 5: [0, 3600]}
yr = {1: [-1.09, 1.10], 2: [-1.1, 1.1], 3: [-0.05, 1.05], 4: [-0.05, 1.05], 5: [-1.095, 1.10]}
xt = {1: [0, 500, 1000, 1500, 2000, 2500, 3000, 3500], 2: [0, 5, 10, 15],
      3: [0, 10, 20, 30], 4: [0, 10, 20, 30], 5: [0, 500, 1000, 1500, 2000, 2500, 3000, 3500]}
yt = {1: [-1, -0.5, 0, 0.5, 1], 2: [-1, -0.5, 0, 0.5, 1], 3: [0, 0.25, 0.5, 0.75, 1.0],
      4: [0, 0.25, 0.5, 0.75, 1.0], 5: [-1, -0.5, 0, 0.5, 1]}
yfmt = {1: ".1f", 2: ".1f", 3: ".2f", 4: ".2f", 5: ".1f"}

lay = dict(width=W, height=H, margin=dict(l=0, r=0, t=0, b=0, pad=0, autoexpand=False),
           autosize=False, paper_bgcolor="white", plot_bgcolor="white", showlegend=False)
for i in range(1, 6):
    l, r, t, b = boxes[i]
    sx = "" if i == 1 else str(i)
    xa = axstyle()
    xa.update(domain=[l / W, r / W], range=xr[i], tickvals=xt[i], anchor="y" + sx,
              ticklabelstandoff=3)
    ya = axstyle()
    ya.update(domain=[1 - b / H, 1 - t / H], range=yr[i], tickvals=yt[i],
              tickformat=yfmt[i], anchor="x" + sx, ticklabelstandoff=1)
    lay["xaxis" + sx] = xa
    lay["yaxis" + sx] = ya

ann = []


def text(s, cx, cy, size, angle=0):
    ann.append(dict(text=s, x=cx / W, y=1 - cy / H, xref="paper", yref="paper",
                    xanchor="center", yanchor="middle", showarrow=False, textangle=angle,
                    font=dict(family=FONT, size=size, color="black")))


# titles
text(titles[0], 665.5, 19, 20.5)
text(titles[1], 257.5, 308, 20.5)
text(titles[2], 665, 308, 20.5)
text(titles[3], 1072.7, 308, 20.5)
text(titles[4], 665.5, 596, 20.5)
# x labels
text("Time (s)", 665.5, 271, 17)
text("Time (s)", 257.5, 560, 17)
text("Frequency (Hz)", 665, 560, 17)
text("Frequency (Hz)", 1072.7, 560, 17)
text("Time (s)", 665.5, 848, 17)
# y labels
for i in (1, 2, 5):
    l, r, t, b = boxes[i]
    text("Normalized amplitude", 17, (t + b) / 2, 17, angle=-90)
# panel letters (white box like a matplotlib text bbox)
for i in range(1, 6):
    l, r, t, b = boxes[i]
    ann.append(dict(text=letters[i - 1], x=(l + 7) / W, y=1 - (t + 21) / H,
                    xref="paper", yref="paper", xanchor="left", yanchor="middle",
                    showarrow=False, bgcolor="white", borderpad=3,
                    font=dict(family=FONT, size=23, color="black")))

lay["annotations"] = ann
fig.update_layout(**lay)
fig.write_html("out.html",
               config={"displayModeBar": False},
               post_script="document.body.style.margin='0';"
                           "document.documentElement.style.overflow='hidden';")
